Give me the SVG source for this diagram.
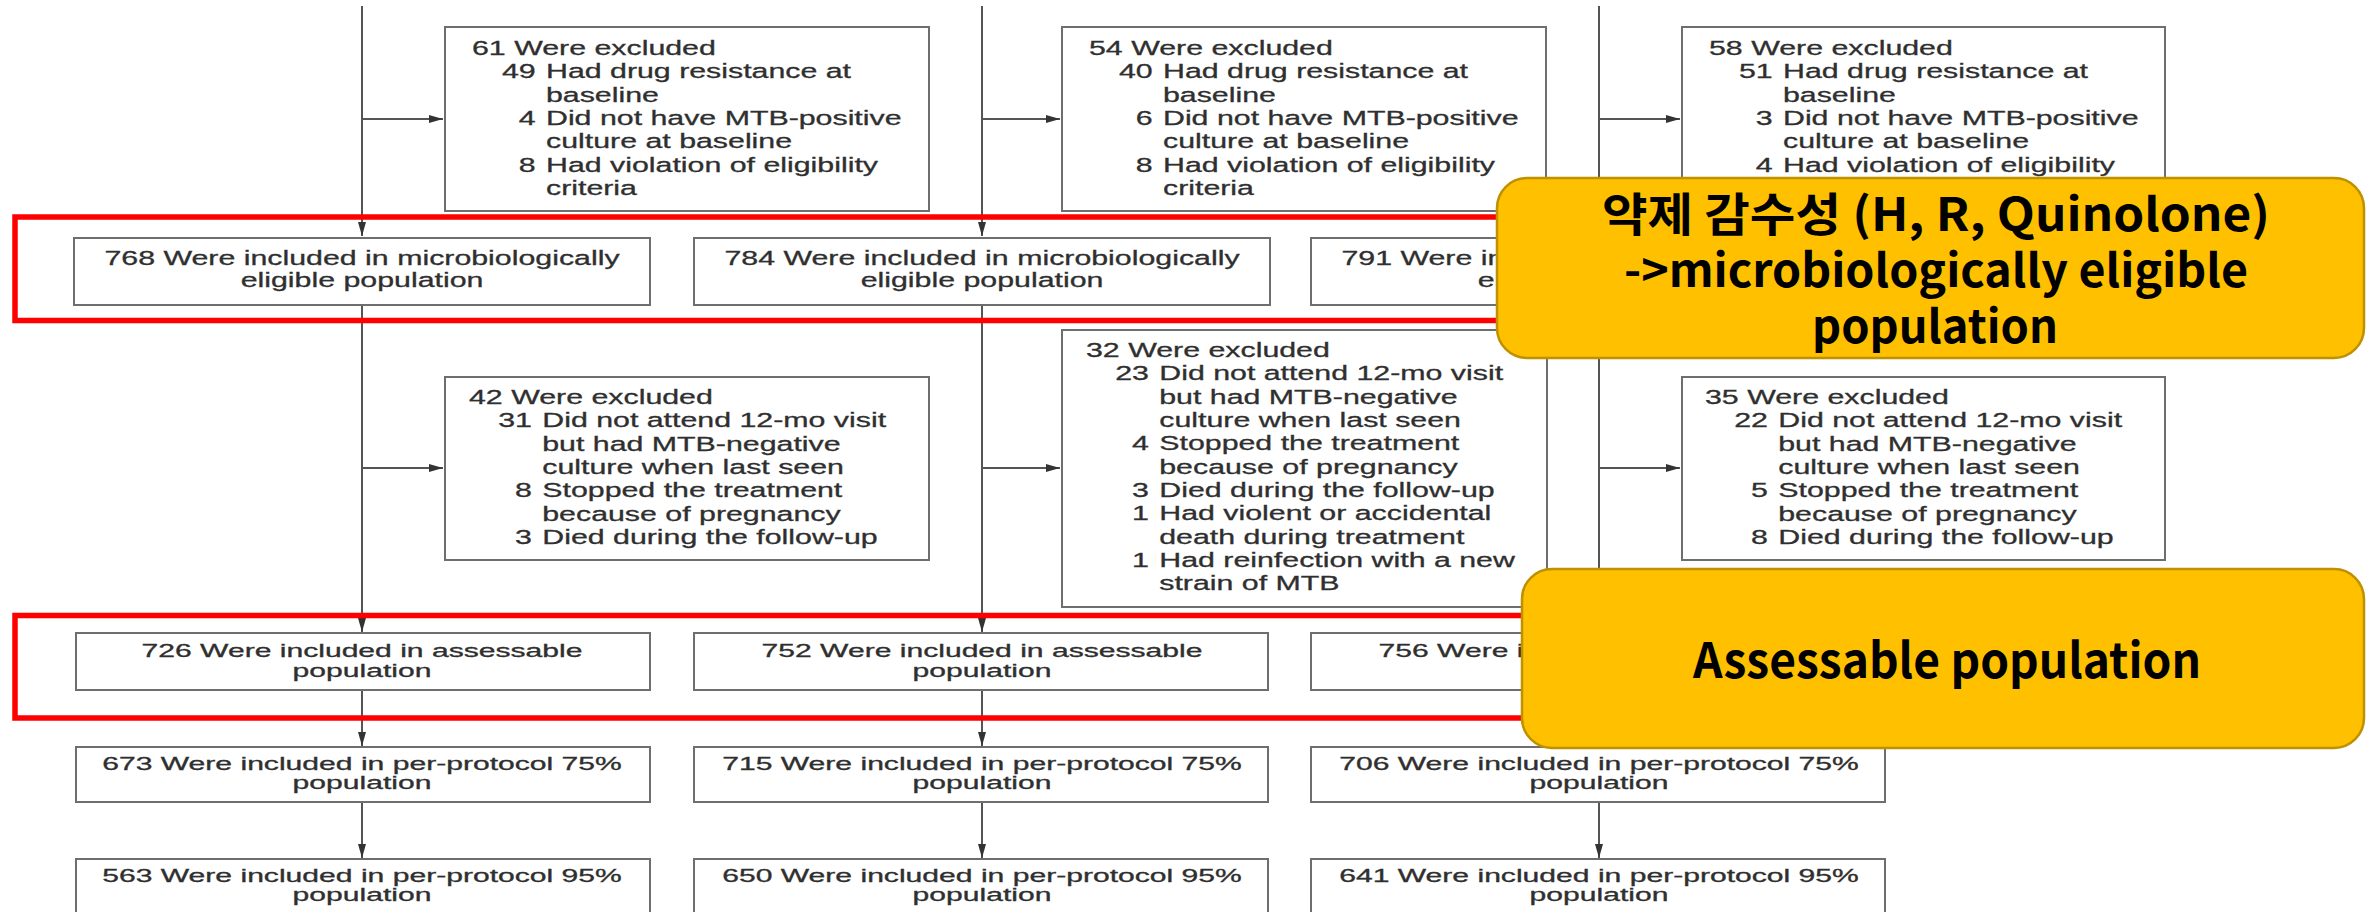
<svg xmlns="http://www.w3.org/2000/svg" width="2366" height="912" viewBox="0 0 2366 912">
  <style>
    .bg { fill: #ffffff; }
    .box { fill: #ffffff; stroke: #6e6e6e; stroke-width: 2; }
    .link { fill: none; stroke: #555555; stroke-width: 2; }
    .tx { font-family: "Liberation Sans", Arial, sans-serif; font-size: 20.5px; fill: #2f2f2f; stroke: #2f2f2f; stroke-width: 0.3; }
    .sm { font-size: 17.5px; }
    .num { text-anchor: end; }
    .mid { text-anchor: middle; }
    .hl { fill: none; stroke: #ff0000; stroke-width: 5.5; }
    .note { fill: #ffc000; stroke: #bf9000; stroke-width: 2.5; }
    .nt { font-family: "Noto Sans CJK KR", "Noto Sans", sans-serif; font-weight: bold; fill: #000000; text-anchor: middle; }
  </style>
  <defs>
    <marker id="ah" markerWidth="14" markerHeight="8" refX="14" refY="4" orient="auto" markerUnits="userSpaceOnUse">
      <path d="M0,0 L14,4 L0,8 z" fill="#333333"/>
    </marker>
  </defs>

  <rect class="bg" x="0" y="0" width="2366" height="912"/>

  <!-- connectors: three arm columns with side branches to exclusion boxes -->
  <g id="connectors">
    <!-- arm 1 -->
    <line class="link" x1="362" y1="6" x2="362" y2="236" marker-end="url(#ah)"/>
    <line class="link" x1="362" y1="119" x2="443" y2="119" marker-end="url(#ah)"/>
    <line class="link" x1="362" y1="305" x2="362" y2="632" marker-end="url(#ah)"/>
    <line class="link" x1="362" y1="468" x2="443" y2="468" marker-end="url(#ah)"/>
    <line class="link" x1="362" y1="690" x2="362" y2="746" marker-end="url(#ah)"/>
    <line class="link" x1="362" y1="802" x2="362" y2="858" marker-end="url(#ah)"/>
    <!-- arm 2 -->
    <line class="link" x1="982" y1="6" x2="982" y2="236" marker-end="url(#ah)"/>
    <line class="link" x1="982" y1="119" x2="1060" y2="119" marker-end="url(#ah)"/>
    <line class="link" x1="982" y1="305" x2="982" y2="632" marker-end="url(#ah)"/>
    <line class="link" x1="982" y1="468" x2="1060" y2="468" marker-end="url(#ah)"/>
    <line class="link" x1="982" y1="690" x2="982" y2="746" marker-end="url(#ah)"/>
    <line class="link" x1="982" y1="802" x2="982" y2="858" marker-end="url(#ah)"/>
    <!-- arm 3 -->
    <line class="link" x1="1599" y1="6" x2="1599" y2="236" marker-end="url(#ah)"/>
    <line class="link" x1="1599" y1="119" x2="1680" y2="119" marker-end="url(#ah)"/>
    <line class="link" x1="1599" y1="305" x2="1599" y2="632" marker-end="url(#ah)"/>
    <line class="link" x1="1599" y1="468" x2="1680" y2="468" marker-end="url(#ah)"/>
    <line class="link" x1="1599" y1="690" x2="1599" y2="746" marker-end="url(#ah)"/>
    <line class="link" x1="1599" y1="802" x2="1599" y2="858" marker-end="url(#ah)"/>
  </g>

  <!-- first exclusion row -->
  <g id="excl-61">
    <rect class="box" x="445" y="27" width="484" height="184"/>
    <g class="tx" transform="translate(472 0) scale(1.48 1)">
      <text y="55">61 Were excluded</text>
      <text class="num" x="43" y="78.5">49</text><text x="50" y="78.5">Had drug resistance at</text>
      <text x="50" y="102">baseline</text>
      <text class="num" x="43" y="125">4</text><text x="50" y="125">Did not have MTB-positive</text>
      <text x="50" y="148.5">culture at baseline</text>
      <text class="num" x="43" y="172">8</text><text x="50" y="172">Had violation of eligibility</text>
      <text x="50" y="195">criteria</text>
    </g>
  </g>
  <g id="excl-54">
    <rect class="box" x="1062" y="27" width="484" height="184"/>
    <g class="tx" transform="translate(1089 0) scale(1.48 1)">
      <text y="55">54 Were excluded</text>
      <text class="num" x="43" y="78.5">40</text><text x="50" y="78.5">Had drug resistance at</text>
      <text x="50" y="102">baseline</text>
      <text class="num" x="43" y="125">6</text><text x="50" y="125">Did not have MTB-positive</text>
      <text x="50" y="148.5">culture at baseline</text>
      <text class="num" x="43" y="172">8</text><text x="50" y="172">Had violation of eligibility</text>
      <text x="50" y="195">criteria</text>
    </g>
  </g>
  <g id="excl-58">
    <rect class="box" x="1682" y="27" width="483" height="184"/>
    <g class="tx" transform="translate(1709 0) scale(1.48 1)">
      <text y="55">58 Were excluded</text>
      <text class="num" x="43" y="78.5">51</text><text x="50" y="78.5">Had drug resistance at</text>
      <text x="50" y="102">baseline</text>
      <text class="num" x="43" y="125">3</text><text x="50" y="125">Did not have MTB-positive</text>
      <text x="50" y="148.5">culture at baseline</text>
      <text class="num" x="43" y="172">4</text><text x="50" y="172">Had violation of eligibility</text>
    </g>
  </g>

  <!-- microbiologically eligible row -->
  <g id="micro-768">
    <rect class="box" x="74" y="238" width="576" height="67"/>
    <g class="tx mid" transform="translate(362 0) scale(1.48 1)">
      <text y="265">768 Were included in microbiologically</text>
      <text y="287">eligible population</text>
    </g>
  </g>
  <g id="micro-784">
    <rect class="box" x="694" y="238" width="576" height="67"/>
    <g class="tx mid" transform="translate(982 0) scale(1.48 1)">
      <text y="265">784 Were included in microbiologically</text>
      <text y="287">eligible population</text>
    </g>
  </g>
  <g id="micro-791">
    <rect class="box" x="1311" y="238" width="576" height="67"/>
    <g class="tx mid" transform="translate(1599 0) scale(1.48 1)">
      <text y="265">791 Were included in microbiologically</text>
      <text y="287">eligible population</text>
    </g>
  </g>

  <!-- second exclusion row -->
  <g id="excl-42">
    <rect class="box" x="445" y="377" width="484" height="183"/>
    <g class="tx" transform="translate(469 0) scale(1.48 1)">
      <text y="404">42 Were excluded</text>
      <text class="num" x="42.5" y="427.5">31</text><text x="49.5" y="427.5">Did not attend 12-mo visit</text>
      <text x="49.5" y="451">but had MTB-negative</text>
      <text x="49.5" y="474">culture when last seen</text>
      <text class="num" x="42.5" y="497.5">8</text><text x="49.5" y="497.5">Stopped the treatment</text>
      <text x="49.5" y="521">because of pregnancy</text>
      <text class="num" x="42.5" y="544">3</text><text x="49.5" y="544">Died during the follow-up</text>
    </g>
  </g>
  <g id="excl-32">
    <rect class="box" x="1062" y="330" width="485" height="277"/>
    <g class="tx" transform="translate(1086 0) scale(1.48 1)">
      <text y="357">32 Were excluded</text>
      <text class="num" x="42.5" y="380.5">23</text><text x="49.5" y="380.5">Did not attend 12-mo visit</text>
      <text x="49.5" y="404">but had MTB-negative</text>
      <text x="49.5" y="427">culture when last seen</text>
      <text class="num" x="42.5" y="450.5">4</text><text x="49.5" y="450.5">Stopped the treatment</text>
      <text x="49.5" y="474">because of pregnancy</text>
      <text class="num" x="42.5" y="497">3</text><text x="49.5" y="497">Died during the follow-up</text>
      <text class="num" x="42.5" y="520.5">1</text><text x="49.5" y="520.5">Had violent or accidental</text>
      <text x="49.5" y="544">death during treatment</text>
      <text class="num" x="42.5" y="567">1</text><text x="49.5" y="567">Had reinfection with a new</text>
      <text x="49.5" y="590.5">strain of MTB</text>
    </g>
  </g>
  <g id="excl-35">
    <rect class="box" x="1682" y="377" width="483" height="183"/>
    <g class="tx" transform="translate(1705 0) scale(1.48 1)">
      <text y="404">35 Were excluded</text>
      <text class="num" x="42.5" y="427.5">22</text><text x="49.5" y="427.5">Did not attend 12-mo visit</text>
      <text x="49.5" y="451">but had MTB-negative</text>
      <text x="49.5" y="474">culture when last seen</text>
      <text class="num" x="42.5" y="497.5">5</text><text x="49.5" y="497.5">Stopped the treatment</text>
      <text x="49.5" y="521">because of pregnancy</text>
      <text class="num" x="42.5" y="544">8</text><text x="49.5" y="544">Died during the follow-up</text>
    </g>
  </g>

  <!-- assessable row -->
  <g id="assess-726">
    <rect class="box" x="76" y="633" width="574" height="57"/>
    <g class="tx sm mid" transform="translate(362 0) scale(1.72 1)">
      <text y="657">726 Were included in assessable</text>
      <text y="677">population</text>
    </g>
  </g>
  <g id="assess-752">
    <rect class="box" x="694" y="633" width="574" height="57"/>
    <g class="tx sm mid" transform="translate(982 0) scale(1.72 1)">
      <text y="657">752 Were included in assessable</text>
      <text y="677">population</text>
    </g>
  </g>
  <g id="assess-756">
    <rect class="box" x="1311" y="633" width="574" height="57"/>
    <g class="tx sm mid" transform="translate(1599 0) scale(1.72 1)">
      <text y="657">756 Were included in assessable</text>
      <text y="677">population</text>
    </g>
  </g>

  <!-- per-protocol 75% row -->
  <g id="pp75-673">
    <rect class="box" x="76" y="747" width="574" height="55"/>
    <g class="tx sm mid" transform="translate(362 0) scale(1.72 1)">
      <text y="770">673 Were included in per-protocol 75%</text>
      <text y="789">population</text>
    </g>
  </g>
  <g id="pp75-715">
    <rect class="box" x="694" y="747" width="574" height="55"/>
    <g class="tx sm mid" transform="translate(982 0) scale(1.72 1)">
      <text y="770">715 Were included in per-protocol 75%</text>
      <text y="789">population</text>
    </g>
  </g>
  <g id="pp75-706">
    <rect class="box" x="1311" y="747" width="574" height="55"/>
    <g class="tx sm mid" transform="translate(1599 0) scale(1.72 1)">
      <text y="770">706 Were included in per-protocol 75%</text>
      <text y="789">population</text>
    </g>
  </g>

  <!-- per-protocol 95% row (runs off the lower edge) -->
  <g id="pp95-563">
    <rect class="box" x="76" y="859" width="574" height="70"/>
    <g class="tx sm mid" transform="translate(362 0) scale(1.72 1)">
      <text y="882">563 Were included in per-protocol 95%</text>
      <text y="901">population</text>
    </g>
  </g>
  <g id="pp95-650">
    <rect class="box" x="694" y="859" width="574" height="70"/>
    <g class="tx sm mid" transform="translate(982 0) scale(1.72 1)">
      <text y="882">650 Were included in per-protocol 95%</text>
      <text y="901">population</text>
    </g>
  </g>
  <g id="pp95-641">
    <rect class="box" x="1311" y="859" width="574" height="70"/>
    <g class="tx sm mid" transform="translate(1599 0) scale(1.72 1)">
      <text y="882">641 Were included in per-protocol 95%</text>
      <text y="901">population</text>
    </g>
  </g>

  <!-- red highlight frames -->
  <g id="highlights">
    <rect class="hl" x="15" y="217" width="1700" height="103.5"/>
    <rect class="hl" x="15" y="615.5" width="1700" height="102.5"/>
  </g>

  <!-- callouts -->
  <g id="callout-micro">
    <rect class="note" x="1497" y="178" width="867" height="180" rx="30" ry="30"/>
    <text class="nt" x="1936" y="231" font-size="46" textLength="668" lengthAdjust="spacingAndGlyphs">약제 감수성 (H, R, Quinolone)</text>
    <text class="nt" x="1936" y="287" font-size="46" textLength="624" lengthAdjust="spacingAndGlyphs">-&gt;microbiologically eligible</text>
    <text class="nt" x="1935" y="343" font-size="46" textLength="246" lengthAdjust="spacingAndGlyphs">population</text>
  </g>
  <g id="callout-assess">
    <rect class="note" x="1522" y="569" width="842" height="179" rx="30" ry="30"/>
    <text class="nt" x="1947" y="678" font-size="49" textLength="508" lengthAdjust="spacingAndGlyphs">Assessable population</text>
  </g>
</svg>
